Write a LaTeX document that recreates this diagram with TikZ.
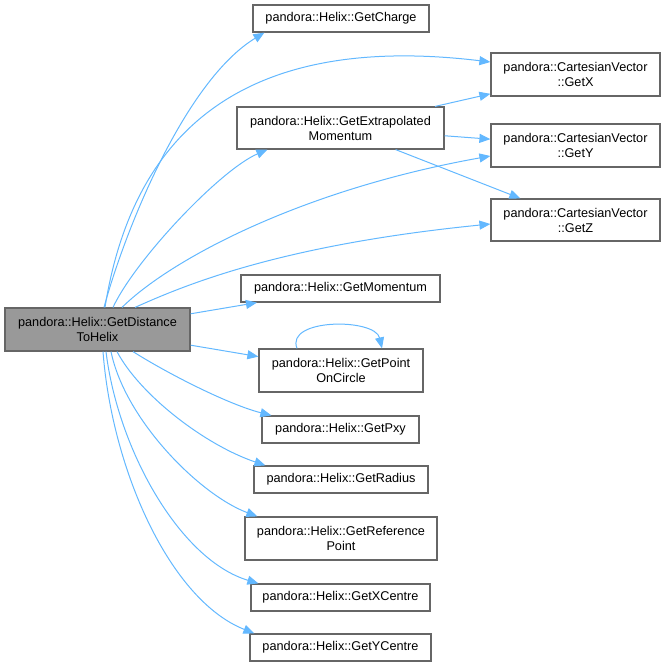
\documentclass[tikz,border=0pt]{standalone}
\usepackage{fontspec}
\setmainfont{Liberation Sans}
\usetikzlibrary{arrows.meta}
\definecolor{edgeblue}{HTML}{63B8FF}
\definecolor{boxline}{HTML}{666666}
\definecolor{mainfill}{HTML}{999999}

\begin{document}
\begin{tikzpicture}[x=1pt, y=-1pt,
  fn/.style={draw=boxline, line width=1.2pt, fill=white, inner sep=0pt,
    align=center, minimum height=27pt, font=\fontsize{12.7}{15}\selectfont},
  edge/.style={draw=edgeblue, line width=1pt, -{Triangle[length=11pt,width=9pt]}}]
  \useasboundingbox (0,0) rectangle (666,667);
  \node[fn, fill=mainfill, minimum width=185pt, minimum height=43pt] (main) at (97.5,329.5) {pandora::Helix::GetDistance\\ToHelix};
  \node[fn, minimum width=176pt] (charge) at (341,18.5) {pandora::Helix::GetCharge};
  \node[fn, minimum width=169pt, minimum height=43pt] (cvx) at (575.5,74.5) {pandora::CartesianVector\\::GetX};
  \node[fn, minimum width=207pt, minimum height=42pt] (extrap) at (340.5,128) {pandora::Helix::GetExtrapolated\\Momentum};
  \node[fn, minimum width=169pt, minimum height=43pt] (cvy) at (575.5,145.5) {pandora::CartesianVector\\::GetY};
  \node[fn, minimum width=169pt, minimum height=42pt] (cvz) at (575.5,220) {pandora::CartesianVector\\::GetZ};
  \node[fn, minimum width=199pt] (momentum) at (340.5,288.5) {pandora::Helix::GetMomentum};
  \node[fn, minimum width=164pt, minimum height=43pt] (circle) at (341,370.5) {pandora::Helix::GetPoint\\OnCircle};
  \node[fn, minimum width=157pt] (pxy) at (340.5,429.5) {pandora::Helix::GetPxy};
  \node[fn, minimum width=174pt] (radius) at (341,479.5) {pandora::Helix::GetRadius};
  \node[fn, minimum width=192pt, minimum height=43pt] (refpoint) at (341,538.5) {pandora::Helix::GetReference\\Point};
  \node[fn, minimum width=179pt] (xcentre) at (340.5,597.5) {pandora::Helix::GetXCentre};
  \node[fn, minimum width=181pt] (ycentre) at (340.5,647.5) {pandora::Helix::GetYCentre};

  % calls going up
  \draw[edge] ([xshift=6.5pt]main.north) .. controls (125,230) and (185,81) .. ([xshift=12pt]charge.south west);
  \draw[edge] ([xshift=7.5pt]main.north) .. controls (130,150) and (225,30) .. ([yshift=12.5pt]cvx.west);
  \draw[edge] ([xshift=15.5pt]main.north) .. controls (135,260) and (220,170) .. ([xshift=31pt]extrap.south west);
  \draw[edge] ([xshift=24.5pt]main.north) .. controls (170,260) and (300,190) .. ([yshift=-10.5pt]cvy.west);
  \draw[edge] ([xshift=37.5pt]main.north) .. controls (185,285) and (280,245) .. ([yshift=-4pt]cvz.west);
  \draw[edge] (extrap) -- (cvx);
  \draw[edge] (extrap) -- (cvy);
  \draw[edge] (extrap) -- (cvz);
  \draw[edge] (main) -- (momentum);
  \draw[edge] (main) -- (circle);
  \draw[edge] ([xshift=-44pt]circle.north) .. controls (285,318) and (375,318) .. ([xshift=41pt]circle.north);
  % calls going down
  \draw[edge] ([xshift=35.5pt]main.south) .. controls (170,375) and (230,405) .. ([xshift=10pt]pxy.north west);
  \draw[edge] ([xshift=19.5pt]main.south) .. controls (140,395) and (205,445) .. ([xshift=12pt]radius.north west);
  \draw[edge] ([xshift=13.5pt]main.south) .. controls (125,420) and (200,495) .. ([xshift=13pt]refpoint.north west);
  \draw[edge] ([xshift=8.5pt]main.south) .. controls (118,450) and (180,560) .. ([xshift=8pt]xcentre.north west);
  \draw[edge] ([xshift=5.5pt]main.south) .. controls (112,470) and (170,600) .. ([xshift=5pt]ycentre.north west);
\end{tikzpicture}
\end{document}
